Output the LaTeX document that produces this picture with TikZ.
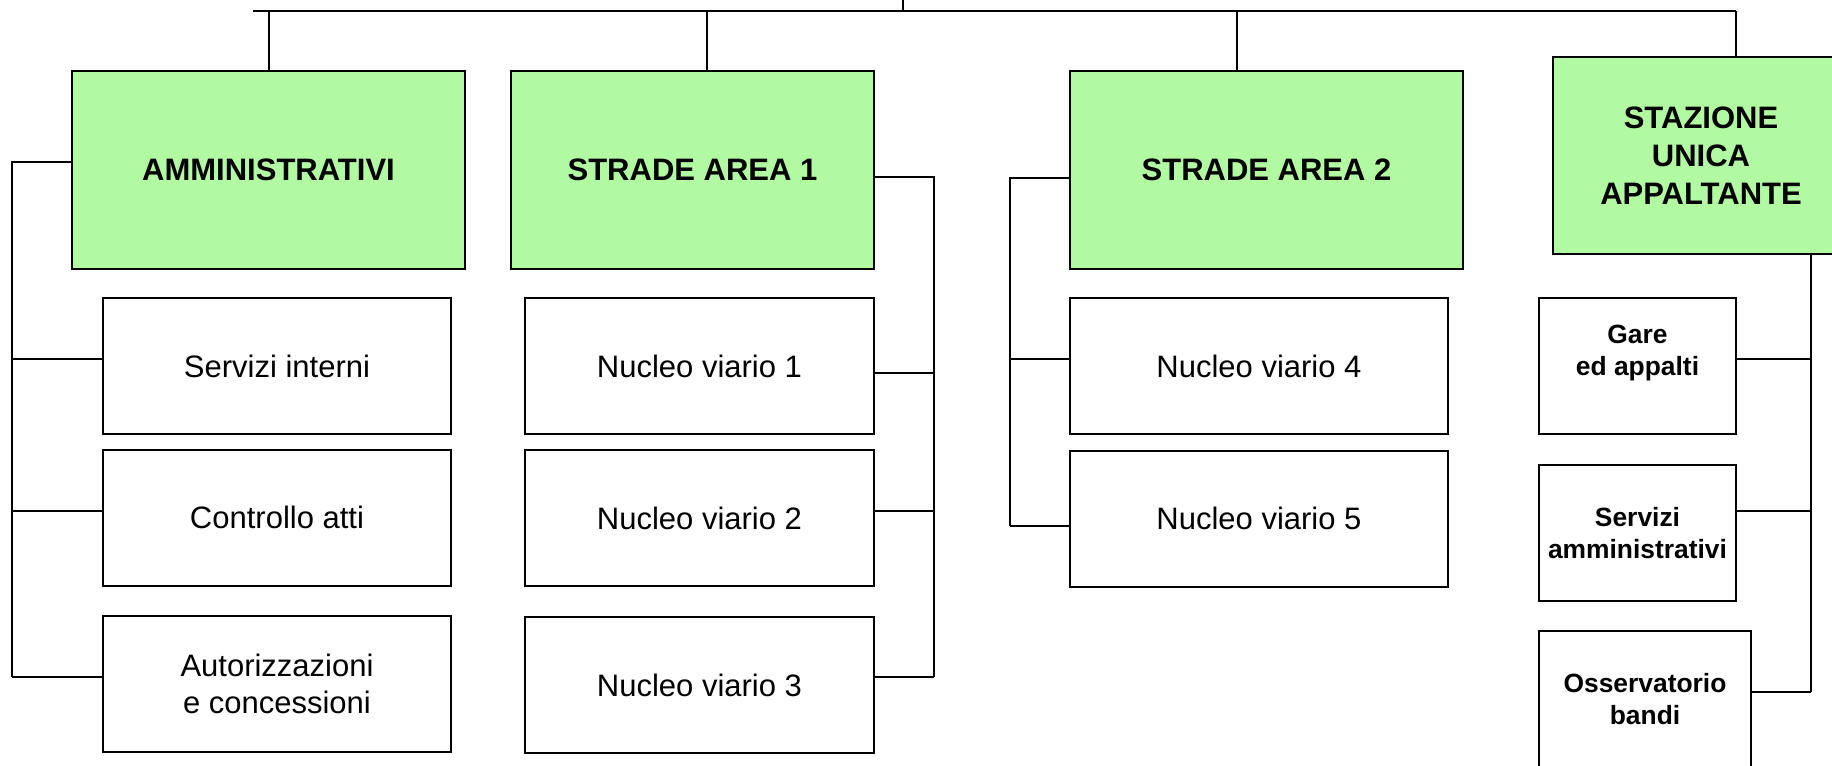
\documentclass[tikz,border=0pt]{standalone}
\usepackage{fontspec}
\setmainfont{Liberation Sans}
\usetikzlibrary{positioning}
\definecolor{areagreen}{HTML}{B2FAA2}

\begin{document}
\begin{tikzpicture}[x=0.5pt, y=-0.5pt,
    box/.style={draw, line width=1pt, rectangle, inner sep=0pt, align=center},
    head/.style={box, fill=areagreen, minimum height=99pt, font=\bfseries\fontsize{15.5}{19}\selectfont},
    office/.style={box, minimum height=68pt, font=\fontsize{15.5}{18.5}\selectfont},
    desk/.style={box, minimum height=68pt, font=\bfseries\fontsize{13.2}{16}\selectfont},
    link/.style={line width=0.7pt}]
  \useasboundingbox (0,0) rectangle (1832,766);

  % areas
  \node[head, minimum width=196.5pt] (amm) at (268.5,170) {AMMINISTRATIVI};
  \node[head, minimum width=181.5pt] (sa1) at (692.5,170) {STRADE AREA 1};
  \node[head, minimum width=196.5pt] (sa2) at (1266.5,170) {STRADE AREA 2};
  \node[head, minimum width=148pt, minimum height=98.5pt] (sua) at (1701,155.5) {STAZIONE\\UNICA\\APPALTANTE};

  % offices
  \node[office, minimum width=174pt] (si) at (277,366) {Servizi interni};
  \node[office, minimum width=174pt] (ca) at (277,517.5) {Controllo atti};
  \node[office, minimum width=174pt] (ac) at (277,684) {Autorizzazioni\\ e concessioni};
  \node[office, minimum width=174.5pt] (nv1) at (699.5,366) {Nucleo viario 1};
  \node[office, minimum width=174.5pt] (nv2) at (699.5,518) {Nucleo viario 2};
  \node[office, minimum width=174.5pt] (nv3) at (699.5,685) {Nucleo viario 3};
  \node[office, minimum width=189pt] (nv4) at (1259,366) {Nucleo viario 4};
  \node[office, minimum width=189pt] (nv5) at (1259,518.5) {Nucleo viario 5};
  \node[desk, minimum width=98.5pt] (gare) at (1637.5,366) {Gare\\ed appalti\\\mbox{}};
  \node[desk, minimum width=98.5pt] (sam) at (1637.5,533) {Servizi\\amministrativi};
  \node[desk, minimum width=106pt] (oss) at (1645,699) {Osservatorio\\bandi};

  % top bus
  \coordinate (root) at (903,0);
  \coordinate (busL) at (253,11);
  \coordinate (busR) at (1736,11);
  \coordinate (dropA) at (269,11);
  \coordinate (dropB) at (707,11);
  \coordinate (dropC) at (1237,11);
  \draw[link] (root) -- (root |- busL);
  \draw[link] (busL) -- (busR);
  \draw[link] (dropA) -- (dropA |- amm.north);
  \draw[link] (dropB) -- (dropB |- sa1.north);
  \draw[link] (dropC) -- (dropC |- sa2.north);
  \draw[link] (busR) -- (busR |- sua.north);

  % brackets
  \coordinate (lbot) at (12,677);
  \coordinate (r1bot) at (934,677);
  \coordinate (l2bot) at (1010,526);
  \coordinate (r2bot) at (1811,692);
  \foreach \n/\s in {amm/4, si/3.5, ca/3.25, ac/3.5}
    \draw[link] ([yshift=\s pt]\n.west) -| (lbot);
  \foreach \n/\s in {sa1/-3.5, nv1/-3.5, nv2/3.5, nv3/4}
    \draw[link] ([yshift=\s pt]\n.east) -| (r1bot);
  \foreach \n/\s in {sa2/-4, nv4/3.5, nv5/-3.75}
    \draw[link] ([yshift=\s pt]\n.west) -| (l2bot);
  \draw[link] (r2bot) -- (r2bot |- sua.south);
  \foreach \n/\s in {gare/3.5, sam/11, oss/3.5}
    \draw[link] ([yshift=\s pt]\n.east) -| (r2bot);
\end{tikzpicture}
\end{document}
